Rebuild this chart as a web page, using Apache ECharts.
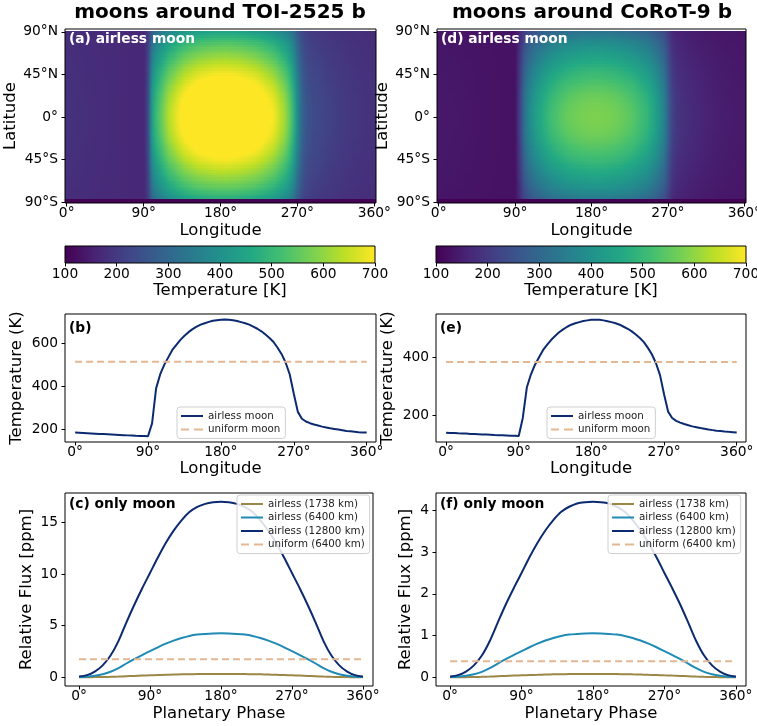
<!DOCTYPE html>
<html><head><meta charset="utf-8">
<script src="https://cdn.jsdelivr.net/npm/echarts@6/dist/echarts.min.js"></script>
<style>html,body{margin:0;padding:0;background:#fff}#c{width:757px;height:726px}</style>
</head><body><div id="c"></div>
<script>
// ---------- data ----------
const lonDeg = [0,5,10,15,20,25,30,35,40,45,50,55,60,65,70,75,80,85,90,95,100,105,110,115,120,125,130,135,140,145,150,155,160,165,170,175,180,185,190,195,200,205,210,215,220,225,230,235,240,245,250,255,260,265,270,275,280,285,290,295,300,305,310,315,320,325,330,335,340,345,350,355,360];
// equatorial temperature profile, TOI-2525 b moon (K)
const tempA = [183,182,181,180,179,178,177,176,175,174,173,172,171,170,169,168,167.5,167,166,
  226,390,455,500,535,570,594,617,636,653,667,679,688,695,701,706,709,711,
  712,711,709,705,700,695,688,679,669,657,642,626,607,580,550,510,455,365,
  280,248,235,227,221,216,211,207,203,200,197,194,191,189,187,185,184,183];
// equatorial temperature profile, CoRoT-9 b moon (K)
const tempE = [139,138.5,138,137,136.5,136,135,134.5,134,133,132.5,132,131,130.5,130,129.5,129,128.5,128,
  190,295,340,373,399,424,442,459,473,486,496,505,512,517,521,525,527,529,
  529,529,527,524,521,517,512,505,498,489,478,466,452,432,409,379,338,272,
  212,190,180,174,169,165,161,158,155,153,150,148,146,145,143,142,141,140];
const uniformA = 515;
const uniformE = 383;
// latitude rows of the maps and the fraction of day-side warming kept at each latitude
const latDeg = [90,87.5,85,82.5,80,77.5,75,72.5,70,67.5,65,62.5,60,57.5,55,52.5,50,47.5,45,42.5,40,37.5,35,32.5,30,27.5,25,22.5,20,17.5,15,12.5,10,7.5,5,2.5,0,
  -2.5,-5,-7.5,-10,-12.5,-15,-17.5,-20,-22.5,-25,-27.5,-30,-32.5,-35,-37.5,-40,-42.5,-45,-47.5,-50,-52.5,-55,-57.5,-60,-62.5,-65,-67.5,-70,-72.5,-75,-77.5,-80,-82.5,-85,-87.5,-90];
const latWeight = [0.44,0.47,0.50,0.53,0.56,0.585,0.61,0.63,0.65,0.67,0.69,0.707,0.725,0.745,0.765,0.782,0.80,0.818,0.835,0.85,0.865,0.88,0.895,0.908,0.92,0.933,0.945,0.955,0.965,0.973,0.98,0.986,0.99,0.995,0.998,1,1,
  1,0.998,0.995,0.99,0.986,0.98,0.973,0.965,0.955,0.945,0.933,0.92,0.908,0.895,0.88,0.865,0.85,0.835,0.818,0.80,0.782,0.765,0.745,0.725,0.707,0.69,0.67,0.65,0.63,0.61,0.585,0.56,0.53,0.50,0.47,0.44];
const nightBaseA = 170, nightBaseE = 128;   // night-side floor (K)
const mapScaleA = 1.16, mapScaleE = 1.13;   // map day-side warming relative to the plotted profile
const southEdgeA = 102, southEdgeE = 100;   // dark bottom rows (K)
const southDarkRows = 2;

// phase curves
const phaseDeg = [0,10,20,30,40,50,60,70,80,90,100,110,120,130,140,150,160,170,180,190,200,210,220,230,240,250,260,270,280,290,300,310,320,330,340,350,360];
const flux12800C = [0.08,0.2,0.55,1.15,2.1,3.5,5.3,7.0,8.6,10.1,11.6,13.0,14.2,15.2,16.0,16.5,16.8,16.95,17.0,16.95,16.8,16.5,16.0,15.2,14.2,13.0,11.6,10.1,8.6,7.0,5.3,3.5,2.1,1.15,0.55,0.2,0.08];
const flux6400C = [0.02,0.05,0.14,0.29,0.53,0.88,1.33,1.75,2.15,2.53,2.9,3.25,3.55,3.8,4.0,4.13,4.2,4.24,4.25,4.24,4.2,4.13,4.0,3.8,3.55,3.25,2.9,2.53,2.15,1.75,1.33,0.88,0.53,0.29,0.14,0.05,0.02];
const flux1738C = [0.0015,0.004,0.01,0.021,0.039,0.064,0.098,0.129,0.158,0.186,0.213,0.239,0.261,0.28,0.294,0.304,0.309,0.312,0.313,0.312,0.309,0.304,0.294,0.28,0.261,0.239,0.213,0.186,0.158,0.129,0.098,0.064,0.039,0.021,0.01,0.004,0.0015];
const uniformFluxC = 1.74;
const flux12800F = [0.02,0.05,0.136,0.285,0.52,0.87,1.31,1.74,2.13,2.5,2.88,3.22,3.52,3.77,3.97,4.09,4.17,4.2,4.21,4.2,4.17,4.09,3.97,3.77,3.52,3.22,2.88,2.5,2.13,1.74,1.31,0.87,0.52,0.285,0.136,0.05,0.02];
const flux6400F = [0.005,0.0125,0.034,0.071,0.13,0.217,0.328,0.435,0.533,0.625,0.72,0.805,0.88,0.943,0.99,1.023,1.04,1.05,1.053,1.05,1.04,1.023,0.99,0.943,0.88,0.805,0.72,0.625,0.533,0.435,0.328,0.217,0.13,0.071,0.034,0.0125,0.005];
const flux1738F = [0.0004,0.001,0.0025,0.0053,0.0096,0.016,0.024,0.032,0.039,0.046,0.053,0.059,0.065,0.069,0.073,0.075,0.077,0.0775,0.078,0.0775,0.077,0.075,0.073,0.069,0.065,0.059,0.053,0.046,0.039,0.032,0.024,0.016,0.0096,0.0053,0.0025,0.001,0.0004];
const uniformFluxF = 0.385;

// tick labels
const lonTicks = [0,90,180,270,360];
const latTicks = [-90,-45,0,45,90];
const cbTicks = [100,200,300,400,500,600,700];
const tempTicksB = [200,400,600];
const tempTicksE = [200,400];
const fluxTicksC = [0,5,10,15];
const fluxTicksF = [0,1,2,3,4];
const cbRange = [100,700];

// ---------- style ----------
const FF = 'DejaVu Sans';
const FS_T = 13.8, FS_L = 16.5, FS_LEG = 10.3;
const NAVY = '#0b2a6f', TAN = '#e2b792', TEAL = '#1f8bb5', OLIVE = '#9b8646';
const VIRIDIS = ['#440154','#482475','#414487','#355f8d','#2a788e','#21918c','#22a884','#44bf70','#7ad151','#bddf26','#fde725'];
const ICON_SOLID = 'path://M0,0H22V2H0Z';
const ICON_DASH = 'path://M0,0H8V2H0Z M13,0H22V2H13Z';

function tColor(t) {
  const u = Math.max(0, Math.min(1, (t - cbRange[0]) / (cbRange[1] - cbRange[0])));
  return echarts.color.lerp(u, VIRIDIS);
}
// map cells: each item runs from one longitude sample to the next
function buildMap(tEq, base, scale, south) {
  const out = [];
  const val = (i, j) => (j >= latDeg.length - southDarkRows) ? south
      : (tEq[i] > base ? base + (tEq[i] - base) * scale * latWeight[j] : tEq[i]);
  for (let j = 0; j < latDeg.length; j++) {
    for (let i = 0; i < lonDeg.length - 1; i++) {
      out.push([lonDeg[i], latDeg[j], val(i, j), val(i + 1, j), lonDeg[i + 1]]);
    }
  }
  return out;
}
const pairs = (xs, ys) => xs.map((x, i) => [x, ys[i]]);
const flat = (xs, v) => xs.map(x => [x, v]);

const degFmt = v => v + '°';
const latFmt = v => v > 0 ? v + '°N' : (v < 0 ? (-v) + '°S' : '0°');

function grid(l, t, w, h) {
  return {left: l, top: t, width: w, height: h, show: true, borderColor: '#000', borderWidth: 1,
          backgroundColor: 'rgba(0,0,0,0)', z: 5, containLabel: false, outerBoundsMode: 'none'};
}
function axis(gi, min, max, ticks, fmt, name, gap, margin) {
  return {
    type: 'value', gridIndex: gi, min: min, max: max, z: 6,
    name: name, nameLocation: 'middle', nameGap: gap,
    nameTextStyle: {fontFamily: FF, fontSize: FS_L, color: '#000'},
    axisLine: {show: false, onZero: false},
    axisTick: {show: ticks.length > 0, length: 3.5, inside: false, customValues: ticks, lineStyle: {color: '#000', width: 1}},
    axisLabel: {show: ticks.length > 0, customValues: ticks, formatter: fmt, fontFamily: FF, fontSize: FS_T, color: '#000', margin: margin},
    splitLine: {show: false}
  };
}
function cellItem(params, api) {
  const dLat = latDeg[0] - latDeg[1];
  const lon = api.value(0), lat = api.value(1), lonN = api.value(4);
  const c0 = tColor(api.value(2)), c1 = tColor(api.value(3));
  const pa = api.coord([lon, lat + dLat / 2]);
  const pb = api.coord([lonN, lat - dLat / 2]);
  const x0 = Math.round(pa[0]), y0 = Math.round(pa[1]);
  const x1 = Math.round(pb[0]), y1 = Math.round(pb[1]);
  const kids = [{type: 'rect', shape: {x: x0, y: y0, width: x1 - x0, height: y1 - y0},
    style: {fill: new echarts.graphic.LinearGradient(0, 0, 1, 0, [{offset: 0, color: c0}, {offset: 1, color: c1}])}}];
  const half = (lonN - lon) / 2;
  if (lon === lonDeg[0]) {
    const pl = Math.round(api.coord([lon - half, lat])[0]);
    kids.push({type: 'rect', shape: {x: pl, y: y0, width: x0 - pl, height: y1 - y0}, style: {fill: c0}});
  }
  if (lonN === lonDeg[lonDeg.length - 1]) {
    const pr = Math.round(api.coord([lonN + half, lat])[0]);
    kids.push({type: 'rect', shape: {x: x1, y: y0, width: pr - x1, height: y1 - y0}, style: {fill: c1}});
  }
  return {type: 'group', children: kids};
}
function cbItem(params, api) {
  const p0 = api.coord([cbRange[0], 1]);
  const p1 = api.coord([cbRange[1], 0]);
  const stops = VIRIDIS.map((c, i) => ({offset: i / (VIRIDIS.length - 1), color: c}));
  return {type: 'rect', shape: {x: p0[0], y: p0[1], width: p1[0] - p0[0], height: p1[1] - p0[1]},
          style: {fill: new echarts.graphic.LinearGradient(0, 0, 1, 0, stops)}};
}
function line(name, gi, data, color, width, dashed) {
  return {type: 'line', name: name, xAxisIndex: gi, yAxisIndex: gi, data: data, showSymbol: false, symbol: 'none',
          lineStyle: {color: color, width: width, type: dashed ? [7, 4] : 'solid', cap: 'butt'}, itemStyle: {color: color},
          z: dashed ? 3 : 2, animation: false};
}
function legend(items, l, t) {
  return {data: items.map(it => ({name: it[0], icon: it[1] ? ICON_DASH : ICON_SOLID})),
          left: l, top: t, orient: 'vertical', itemWidth: 22, itemHeight: 2, itemGap: 3.5,
          padding: [4, 5, 4, 4], textStyle: {fontFamily: FF, fontSize: FS_LEG, color: '#222'},
          backgroundColor: 'rgba(255,255,255,0.85)', borderColor: '#cfcfcf', borderWidth: 1, borderRadius: 3,
          selectedMode: false};
}

const grids = [
  grid(65, 29, 311, 174),   // 0 (a)
  grid(437, 29, 309, 174),  // 1 (d)
  grid(65, 246, 310, 17),   // 2 colorbar a
  grid(436, 246, 310, 17),  // 3 colorbar d
  grid(65, 314, 311, 128),  // 4 (b)
  grid(436, 314, 310, 128), // 5 (e)
  grid(65, 493, 308, 193),  // 6 (c)
  grid(436, 493, 310, 193)  // 7 (f)
];
const xAxes = [
  axis(0, -2, 362, lonTicks, degFmt, 'Longitude', 19, 3),
  axis(1, -2, 362, lonTicks, degFmt, 'Longitude', 19, 3),
  axis(2, cbRange[0], cbRange[1], cbTicks, v => String(v), 'Temperature [K]', 19, 4),
  axis(3, cbRange[0], cbRange[1], cbTicks, v => String(v), 'Temperature [K]', 19, 4),
  axis(4, -12.5, 371.5, lonTicks, degFmt, 'Longitude', 18, 3),
  axis(5, -12.5, 371.5, lonTicks, degFmt, 'Longitude', 18, 3),
  axis(6, -17.75, 372.75, lonTicks, degFmt, 'Planetary Phase', 19, 3),
  axis(7, -17.75, 372.75, lonTicks, degFmt, 'Planetary Phase', 19, 3)
];
const yAxes = [
  axis(0, -91, 93, latTicks, latFmt, 'Latitude', 38, 7),
  axis(1, -91, 93, latTicks, latFmt, 'Latitude', 39, 7),
  axis(2, 0, 1, [], null, '', 0, 0),
  axis(3, 0, 1, [], null, '', 0, 0),
  axis(4, 139, 738, tempTicksB, v => String(v), 'Temperature (K)', 40, 7),
  axis(5, 107, 549, tempTicksE, v => String(v), 'Temperature (K)', 40, 7),
  axis(6, -0.85, 17.85, fluxTicksC, v => String(v), 'Relative Flux [ppm]', 30, 7),
  axis(7, -0.21, 4.42, fluxTicksF, v => String(v), 'Relative Flux [ppm]', 22, 7)
];

const series = [
  {type: 'custom', name: 'mapA', xAxisIndex: 0, yAxisIndex: 0, data: buildMap(tempA, nightBaseA, mapScaleA, southEdgeA), renderItem: cellItem, clip: true, encode: {x: [0, 4], y: 1}, animation: false},
  {type: 'custom', name: 'mapD', xAxisIndex: 1, yAxisIndex: 1, data: buildMap(tempE, nightBaseE, mapScaleE, southEdgeE), renderItem: cellItem, clip: true, encode: {x: [0, 4], y: 1}, animation: false},
  {type: 'custom', name: 'cbA', xAxisIndex: 2, yAxisIndex: 2, data: [[cbRange[0], 0]], renderItem: cbItem, clip: true, animation: false},
  {type: 'custom', name: 'cbD', xAxisIndex: 3, yAxisIndex: 3, data: [[cbRange[0], 0]], renderItem: cbItem, clip: true, animation: false},
  line('airless moon', 4, pairs(lonDeg, tempA), NAVY, 2, false),
  line('uniform moon', 4, flat(lonDeg, uniformA), TAN, 2, true),
  line('airless moon', 5, pairs(lonDeg, tempE), NAVY, 2, false),
  line('uniform moon', 5, flat(lonDeg, uniformE), TAN, 2, true),
  line('airless (1738 km)', 6, pairs(phaseDeg, flux1738C), OLIVE, 2, false),
  line('airless (6400 km)', 6, pairs(phaseDeg, flux6400C), TEAL, 2, false),
  line('airless (12800 km)', 6, pairs(phaseDeg, flux12800C), NAVY, 2, false),
  line('uniform (6400 km)', 6, flat(phaseDeg, uniformFluxC), TAN, 2, true),
  line('airless (1738 km)', 7, pairs(phaseDeg, flux1738F), OLIVE, 2, false),
  line('airless (6400 km)', 7, pairs(phaseDeg, flux6400F), TEAL, 2, false),
  line('airless (12800 km)', 7, pairs(phaseDeg, flux12800F), NAVY, 2, false),
  line('uniform (6400 km)', 7, flat(phaseDeg, uniformFluxF), TAN, 2, true)
];
series.slice(8).forEach(s => { s.smooth = 0.3; });

const tempLegend = [['airless moon', false], ['uniform moon', true]];
const fluxLegend = [['airless (1738 km)', false], ['airless (6400 km)', false], ['airless (12800 km)', false], ['uniform (6400 km)', true]];

const chart = echarts.init(document.getElementById('c'), null, {renderer: 'canvas'});
chart.setOption({
  animation: false,
  backgroundColor: '#fff',
  textStyle: {fontFamily: FF},
  grid: grids, xAxis: xAxes, yAxis: yAxes,
  legend: [
    legend(tempLegend, 177, 407),
    legend(tempLegend, 547, 407),
    legend(fluxLegend, 237, 495),
    legend(fluxLegend, 608, 495)
  ],
  graphic: [
    {type: 'text', style: {text: 'moons around TOI-2525 b', x: 220, y: 13, textAlign: 'center', textVerticalAlign: 'middle', font: 'bold 20px "DejaVu Sans"', fill: '#000'}},
    {type: 'text', style: {text: 'moons around CoRoT-9 b', x: 592, y: 13, textAlign: 'center', textVerticalAlign: 'middle', font: 'bold 20px "DejaVu Sans"', fill: '#000'}},
    {type: 'text', z: 20, style: {text: '(a) airless moon', x: 69, y: 39, textVerticalAlign: 'middle', font: 'bold 13.8px "DejaVu Sans"', fill: '#fff'}},
    {type: 'text', z: 20, style: {text: '(d) airless moon', x: 441, y: 39, textVerticalAlign: 'middle', font: 'bold 13.8px "DejaVu Sans"', fill: '#fff'}},
    {type: 'text', z: 20, style: {text: '(b)', x: 69, y: 328, textVerticalAlign: 'middle', font: 'bold 13.8px "DejaVu Sans"', fill: '#000'}},
    {type: 'text', z: 20, style: {text: '(e)', x: 440, y: 328, textVerticalAlign: 'middle', font: 'bold 13.8px "DejaVu Sans"', fill: '#000'}},
    {type: 'text', z: 20, style: {text: '(c) only moon', x: 69, y: 504, textVerticalAlign: 'middle', font: 'bold 13.8px "DejaVu Sans"', fill: '#000'}},
    {type: 'text', z: 20, style: {text: '(f) only moon', x: 440, y: 504, textVerticalAlign: 'middle', font: 'bold 13.8px "DejaVu Sans"', fill: '#000'}}
  ],
  series: series
});
</script></body></html>
